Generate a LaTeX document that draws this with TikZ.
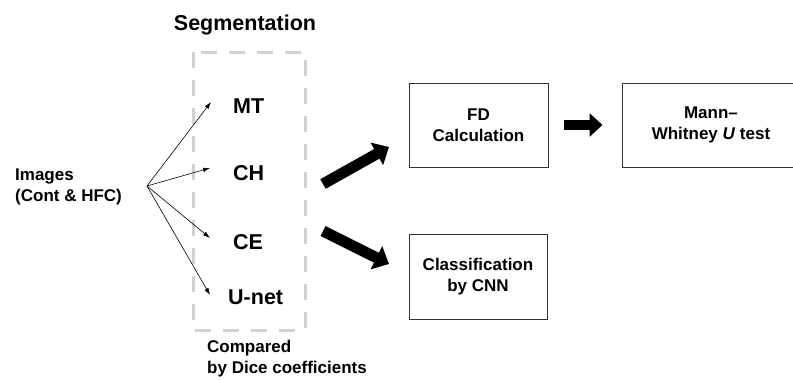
\documentclass[tikz,border=0pt]{standalone}
\usepackage{fontspec}
\setmainfont{Liberation Sans}
\usetikzlibrary{arrows.meta,positioning}
\begin{document}
\begin{tikzpicture}[x=1pt,y=-1pt,
  txt/.style={font=\fontsize{17}{21}\selectfont\bfseries, align=center, inner sep=0pt},
  seglab/.style={font=\fontsize{21.5}{24}\selectfont\bfseries, anchor=west, inner sep=0pt},
  boxnode/.style={draw=black!80, line width=1pt, txt},
  thinarrow/.style={line width=0.6pt, -{Latex[length=7pt,width=4.5pt]}},
  blockarrow/.style={line width=11pt, -{Triangle[length=14pt,width=25pt]}},
  dashbox/.style={draw=black!18, line width=3pt, dash pattern=on 16pt off 12pt}
]
\useasboundingbox (0,0) rectangle (793,380);

% Segmentation title and dashed box
\node[font=\fontsize{21.5}{24}\selectfont\bfseries, inner sep=0pt] (segtitle) at (245,25) {Segmentation};
\draw[dashbox] (193,52) rectangle (305,330);
\node[txt, align=left, anchor=north west] (dice) at (207,340) {Compared\\by Dice coefficients};

% Input
\node[txt, align=left, anchor=west] (img) at (15,187) {Images\\(Cont \& HFC)};
\coordinate (src) at (147,186);

% Method labels
\node[seglab] (mt) at (233,106) {MT};
\node[seglab] (ch) at (233,173) {CH};
\node[seglab] (ce) at (233,242) {CE};
\node[seglab] (unet) at (228,297) {U-net};

\coordinate (emt) at (211,102);
\coordinate (ech) at (210,168);
\coordinate (ece) at (210,238);
\coordinate (eun) at (210,295);
\draw[thinarrow] (src) -- (emt);
\draw[thinarrow] (src) -- (ech);
\draw[thinarrow] (src) -- (ece);
\draw[thinarrow] (src) -- (eun);

% Boxes
\node[boxnode, minimum width=139pt, minimum height=84pt] (fd) at (478.5,125) {FD\\Calculation};
\node[boxnode, minimum width=178pt, minimum height=84pt] (mann) at (711,125) {Mann--\\Whitney \textit{U} test};
\node[boxnode, minimum width=138pt, minimum height=85pt] (cnn) at (478,276.5) {Classification\\by CNN};

% Block arrows
\coordinate (up0) at (323,184);
\coordinate (up1) at (389,147);
\coordinate (dn0) at (323,231);
\coordinate (dn1) at (389,264);
\draw[blockarrow] (up0) -- (up1);
\draw[blockarrow] (dn0) -- (dn1);
\draw[blockarrow, line width=10pt, -{Triangle[length=13pt,width=23pt]}, shorten <=15pt, shorten >=19pt] (fd.east) -- (mann.west);
\end{tikzpicture}
\end{document}
